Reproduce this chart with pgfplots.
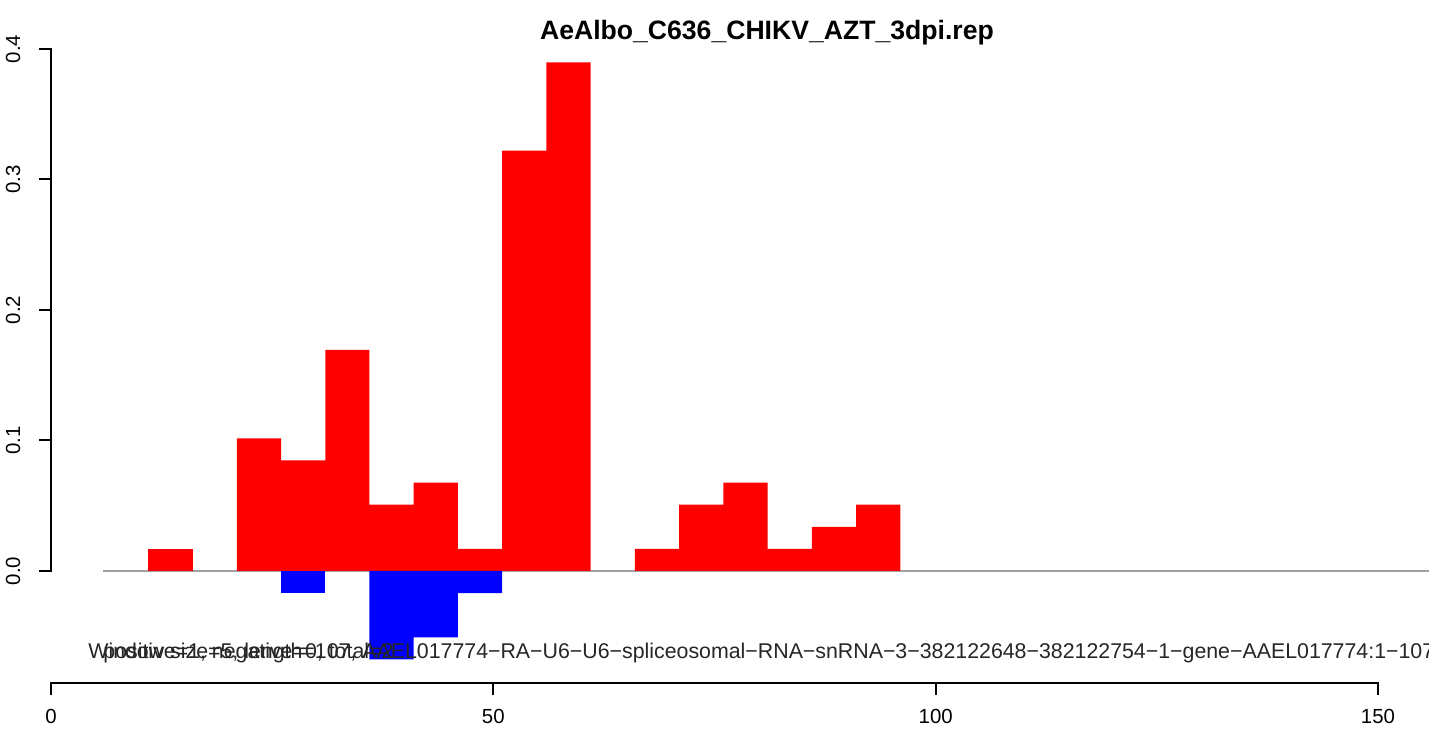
\documentclass[border=0pt]{standalone}
\usepackage{fontspec}
\setmainfont{Liberation Sans}
\usepackage{pgfplots}
\pgfplotsset{compat=1.18}
\definecolor{zgray}{RGB}{160,160,160}
\newcommand{\tickfont}{\fontsize{10.2}{12.2}\selectfont}
\newcommand{\infofont}{\fontsize{10.67}{12.8}\selectfont}
\begin{document}
\begin{tikzpicture}
\begin{axis}[
  at={(0,0)}, anchor=south west,
  scale only axis, width=714.5pt, height=365.5pt,
  xmin=-5.7649, xmax=155.765, ymin=-0.122605, ymax=0.437548,
  hide axis, clip=false,
]
% zero line
\addplot[zgray, line width=1pt, forget plot] coordinates {(5.88,0) (155.765,0)};
% positive (red)
\addplot[ybar interval, fill=red, draw=none, forget plot] coordinates {
(11,0.01695) (16,0.01695)};
\addplot[ybar interval, fill=red, draw=none, forget plot] coordinates {
(21,0.10169) (26,0.08475) (31,0.16949) (36,0.05085)
(41,0.06780) (46,0.01695) (51,0.32203) (56,0.38983) (61,0.38983)};
\addplot[ybar interval, fill=red, draw=none, forget plot] coordinates {
(66,0.01695) (71,0.05085) (76,0.06780) (81,0.01695) (86,0.03390) (91,0.05085) (96,0.05085)};
% negative (blue)
\addplot[ybar interval, fill=blue, draw=none, forget plot] coordinates {
(26,-0.01695) (31,-0.01695)};
\addplot[ybar interval, fill=blue, draw=none, forget plot] coordinates {
(36,-0.06780) (41,-0.05085) (46,-0.01695) (51,-0.01695)};
% y axis
\draw[line width=1pt, line cap=rect] (axis cs:0,0) -- (axis cs:0,0.4);
\draw[line width=1pt] (axis cs:0,0) -- (axis cs:-1.3565,0);
\draw[line width=1pt] (axis cs:0,0.1) -- (axis cs:-1.3565,0.1);
\draw[line width=1pt] (axis cs:0,0.2) -- (axis cs:-1.3565,0.2);
\draw[line width=1pt] (axis cs:0,0.3) -- (axis cs:-1.3565,0.3);
\draw[line width=1pt] (axis cs:0,0.4) -- (axis cs:-1.3565,0.4);
\node[rotate=90, anchor=base, inner sep=0pt, font=\tickfont] at (axis cs:-3.504,0) {0.0};
\node[rotate=90, anchor=base, inner sep=0pt, font=\tickfont] at (axis cs:-3.504,0.1) {0.1};
\node[rotate=90, anchor=base, inner sep=0pt, font=\tickfont] at (axis cs:-3.504,0.2) {0.2};
\node[rotate=90, anchor=base, inner sep=0pt, font=\tickfont] at (axis cs:-3.504,0.3) {0.3};
\node[rotate=90, anchor=base, inner sep=0pt, font=\tickfont] at (axis cs:-3.504,0.4) {0.4};
% x axis
\draw[line width=1pt, line cap=rect] (axis cs:0,-0.085824) -- (axis cs:150,-0.085824);
\draw[line width=1pt] (axis cs:0,-0.085824) -- (axis cs:0,-0.095019);
\draw[line width=1pt] (axis cs:50,-0.085824) -- (axis cs:50,-0.095019);
\draw[line width=1pt] (axis cs:100,-0.085824) -- (axis cs:100,-0.095019);
\draw[line width=1pt] (axis cs:150,-0.085824) -- (axis cs:150,-0.095019);
\node[anchor=base, inner sep=0pt, font=\tickfont] at (axis cs:0,-0.117241) {0};
\node[anchor=base, inner sep=0pt, font=\tickfont] at (axis cs:50,-0.117241) {50};
\node[anchor=base, inner sep=0pt, font=\tickfont] at (axis cs:100,-0.117241) {100};
\node[anchor=base, inner sep=0pt, font=\tickfont] at (axis cs:150,-0.117241) {150};
% title
\node[anchor=base, inner sep=0pt, font=\bfseries\fontsize{13.3}{15.9}\selectfont] at (axis cs:80.93,0.4069) {AeAlbo\_C636\_CHIKV\_AZT\_3dpi.rep};
% info texts
\node[anchor=base west, inner sep=0pt, text=black!85, font=\infofont] at (axis cs:4.18,-0.06743) {Window size=5, length=107, AAEL017774−RA−U6−U6−spliceosomal−RNA−snRNA−3−382122648−382122754−1−gene−AAEL017774:1−107};
\node[anchor=base west, inner sep=0pt, text=black!85, font=\infofont] at (axis cs:5.88,-0.06743) {positive=1, negative=0, total=2};
\end{axis}
\pgfresetboundingbox
\useasboundingbox (0,0) rectangle (714.5pt,365.5pt);
\end{tikzpicture}
\end{document}
